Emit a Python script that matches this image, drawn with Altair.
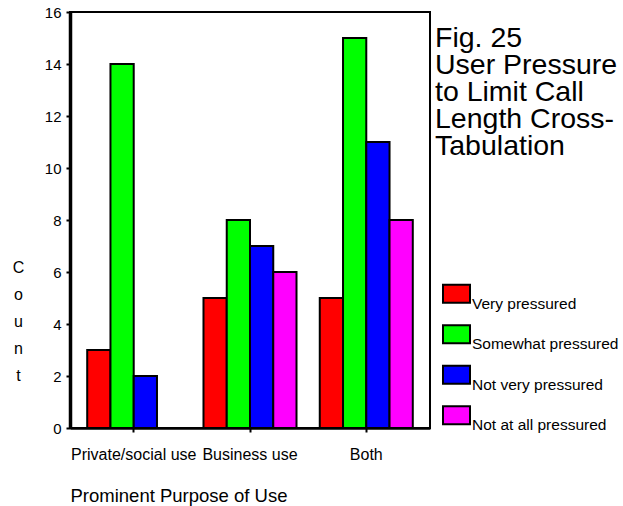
import altair as alt
import pandas as pd

# Categories, series and tick labels
purposes = ["Private/social use", "Business use", "Both"]
pressure_levels = ["Very pressured", "Somewhat pressured", "Not very pressured", "Not at all pressured"]
level_colors = ["#ff0000", "#00ff00", "#0000ff", "#ff00ff"]
private_counts = [3, 14, 2, None]   # no "Not at all pressured" responses
business_counts = [5, 8, 7, 6]
both_counts = [5, 15, 11, 8]
y_ticks = [0, 2, 4, 6, 8, 10, 12, 14, 16]
fig_title = ["Fig. 25", "User Pressure", "to Limit Call", "Length Cross-", "Tabulation"]

rows = []
for purpose, counts in zip(purposes, [private_counts, business_counts, both_counts]):
    for level, count in zip(pressure_levels, counts):
        if count is not None:
            rows.append({"purpose": purpose, "pressure": level, "count": count})
df = pd.DataFrame(rows)

FONT = "Liberation Sans"

# Legend swatch: a 27x18 rectangle sitting slightly above the entry's centre,
# so the label hangs below the swatch's middle
SWATCH_PATH = "M-1,-0.8667L1,-0.8667L1,0.4667L-1,0.4667Z"

bars = alt.Chart(df).mark_bar(stroke="black", strokeWidth=2).encode(
    x=alt.X(
        "purpose:N",
        sort=purposes,
        scale=alt.Scale(paddingInner=0.2, paddingOuter=0.148),
        axis=alt.Axis(
            title="Prominent Purpose of Use",
            labelAngle=0,
            labelFontSize=16,
            labelPadding=14,
            tickSize=4,
            tickWidth=2,
            domainWidth=2.5,
            titleFontSize=18.5,
            titleX=0,
            titleY=73,
            titleAlign="left",
            titleBaseline="alphabetic",
        ),
    ),
    xOffset=alt.XOffset(
        "pressure:N",
        sort=pressure_levels,
        scale=alt.Scale(domain=pressure_levels, paddingInner=0, paddingOuter=0),
    ),
    y=alt.Y(
        "count:Q",
        scale=alt.Scale(domain=[0, 16], nice=False),
        axis=alt.Axis(
            values=y_ticks,
            title=["C", "o", "u", "n", "t"],
            labelFontSize=15,
            labelPadding=5,
            tickSize=4,
            tickWidth=2,
            domainWidth=3.5,
            titleFontSize=16,
            titleAngle=0,
            titleAlign="center",
            titleBaseline="alphabetic",
            titleLineHeight=27,
            titleX=-52,
            titleY=260,
        ),
    ),
    color=alt.Color(
        "pressure:N",
        sort=pressure_levels,
        scale=alt.Scale(domain=pressure_levels, range=level_colors),
        legend=alt.Legend(
            title=None,
            orient="none",
            legendX=372,
            legendY=270,
            symbolType=SWATCH_PATH,
            symbolSize=729,
            symbolStrokeColor="black",
            symbolStrokeWidth=2,
            symbolOpacity=1,
            labelFontSize=15.5,
            labelBaseline="top",
            labelOffset=1,
            labelLimit=300,
            rowPadding=8.5,
            padding=0,
        ),
    ),
)

title_text = alt.Chart(pd.DataFrame({"row": [0]})).mark_text(
    text=fig_title,
    fontSize=28.5,
    lineHeight=27,
    align="left",
    baseline="alphabetic",
    color="black",
    font=FONT,
).encode(x=alt.value(365), y=alt.value(35))

chart = (
    alt.layer(bars, title_text)
    .properties(
        width=360,
        height=416,
        autosize=alt.AutoSizeParams(type="none"),
        padding={"left": 70, "top": 12, "right": 193, "bottom": 78},
        background="white",
    )
    .configure(font=FONT)
    .configure_view(stroke="black", strokeWidth=2)
    .configure_axis(
        grid=False,
        domainColor="black",
        tickColor="black",
        labelColor="black",
        titleColor="black",
        titleFontWeight="normal",
        labelFont=FONT,
        titleFont=FONT,
    )
    .configure_legend(labelColor="black", labelFont=FONT)
)

chart.save("out.html", embed_options={"renderer": "svg", "actions": False})
